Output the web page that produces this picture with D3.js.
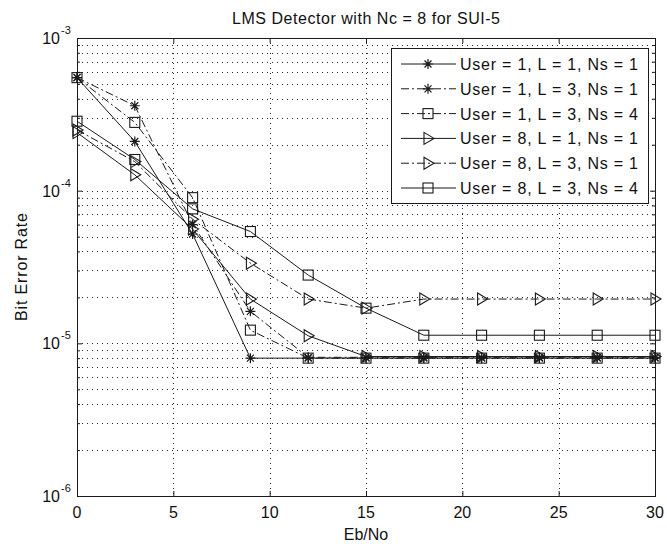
<!DOCTYPE html>
<html>
<head>
<meta charset="utf-8">
<script src="https://cdn.jsdelivr.net/npm/d3@7"></script>
<style>
  body { margin: 0; background: #fff; }
  text { font-family: "Liberation Sans", Arial, Helvetica, sans-serif; fill: #111; }
</style>
</head>
<body>
<svg id="chart" width="667" height="544"></svg>
<script>
// Eb/No points (dB)
const ebno = [0, 3, 6, 9, 12, 15, 18, 21, 24, 27, 30];

// Bit error rate per configuration
const berU1L1Ns1 = [5.5e-4, 2.1e-4, 5.2e-5, 8.0e-6, 8.0e-6, 8.0e-6, 8.0e-6, 8.0e-6, 8.0e-6, 8.0e-6, 8.0e-6];
const berU1L3Ns1 = [5.5e-4, 3.6e-4, 6.0e-5, 1.62e-5, 8.1e-6, 8.1e-6, 8.1e-6, 8.1e-6, 8.1e-6, 8.1e-6, 8.1e-6];
const berU1L3Ns4 = [5.5e-4, 2.8e-4, 9.0e-5, 1.22e-5, 8.0e-6, 8.0e-6, 8.0e-6, 8.0e-6, 8.0e-6, 8.0e-6, 8.0e-6];
const berU8L1Ns1 = [2.4e-4, 1.27e-4, 5.6e-5, 1.95e-5, 1.12e-5, 8.2e-6, 8.2e-6, 8.2e-6, 8.2e-6, 8.2e-6, 8.2e-6];
const berU8L3Ns1 = [2.5e-4, 1.55e-4, 6.5e-5, 3.35e-5, 1.95e-5, 1.7e-5, 1.95e-5, 1.95e-5, 1.95e-5, 1.95e-5, 1.95e-5];
const berU8L3Ns4 = [2.85e-4, 1.6e-4, 7.6e-5, 5.4e-5, 2.8e-5, 1.7e-5, 1.13e-5, 1.13e-5, 1.13e-5, 1.13e-5, 1.13e-5];

const seriesLabels = [
  "User = 1, L = 1, Ns = 1",
  "User = 1, L = 3, Ns = 1",
  "User = 1, L = 3, Ns = 4",
  "User = 8, L = 1, Ns = 1",
  "User = 8, L = 3, Ns = 1",
  "User = 8, L = 3, Ns = 4"
];
const seriesValues = [berU1L1Ns1, berU1L3Ns1, berU1L3Ns4, berU8L1Ns1, berU8L3Ns1, berU8L3Ns4];
const seriesMarkers = ["asterisk", "asterisk", "square", "triangle", "triangle", "square"];
const seriesDashed = [false, true, true, false, true, false];

const xTicks = [0, 5, 10, 15, 20, 25, 30];
const yDecades = [-6, -5, -4, -3];

const titleText = "LMS Detector with Nc = 8 for SUI-5";
const xLabel = "Eb/No";
const yLabel = "Bit Error Rate";

// ---- layout ----
const plot = { left: 77, right: 655, top: 38, bottom: 496 };
const svg = d3.select("#chart");
const ink = "#1a1a1a";

const x = d3.scaleLinear().domain([0, 30]).range([plot.left, plot.right]);
const y = d3.scaleLog().domain([1e-6, 1e-3]).range([plot.bottom, plot.top]);

// white axes background
svg.append("rect").attr("x", plot.left).attr("y", plot.top)
  .attr("width", plot.right - plot.left).attr("height", plot.bottom - plot.top)
  .attr("fill", "#fff");

// minor log positions (2..9 within each decade)
const minorVals = [];
for (let d = -6; d < -3; d++) {
  for (let m = 2; m <= 9; m++) minorVals.push(m * Math.pow(10, d));
}
const majorVals = yDecades.map(d => Math.pow(10, d));

// dotted grid
const grid = svg.append("g").attr("stroke", "#2a2a2a").attr("stroke-width", 1)
  .attr("stroke-dasharray", "1,4").attr("fill", "none");
minorVals.concat(majorVals.slice(1, -1)).forEach(v => {
  grid.append("line").attr("x1", plot.left).attr("x2", plot.right)
    .attr("y1", Math.round(y(v)) + 0.5).attr("y2", Math.round(y(v)) + 0.5);
});
xTicks.slice(1, -1).forEach(t => {
  grid.append("line").attr("y1", plot.top).attr("y2", plot.bottom)
    .attr("x1", Math.round(x(t)) + 0.5).attr("x2", Math.round(x(t)) + 0.5);
});

// axes ticks (all four sides, pointing inward)
const axesG = svg.append("g");
function styleAxis(g) {
  g.select(".domain").remove();
  g.selectAll(".tick line").attr("stroke", ink);
  g.selectAll(".tick text").remove();
}
axesG.append("g").attr("transform", `translate(0,${plot.bottom})`)
  .call(d3.axisBottom(x).tickValues(xTicks).tickSizeInner(-5).tickSizeOuter(0)).call(styleAxis);
axesG.append("g").attr("transform", `translate(0,${plot.top})`)
  .call(d3.axisTop(x).tickValues(xTicks).tickSizeInner(-5).tickSizeOuter(0)).call(styleAxis);
axesG.append("g").attr("transform", `translate(${plot.left},0)`)
  .call(d3.axisLeft(y).tickValues(majorVals).tickSizeInner(-5).tickSizeOuter(0)).call(styleAxis);
axesG.append("g").attr("transform", `translate(${plot.right},0)`)
  .call(d3.axisRight(y).tickValues(majorVals).tickSizeInner(-5).tickSizeOuter(0)).call(styleAxis);
axesG.append("g").attr("transform", `translate(${plot.left},0)`)
  .call(d3.axisLeft(y).tickValues(minorVals).tickSizeInner(-3).tickSizeOuter(0)).call(styleAxis);
axesG.append("g").attr("transform", `translate(${plot.right},0)`)
  .call(d3.axisRight(y).tickValues(minorVals).tickSizeInner(-3).tickSizeOuter(0)).call(styleAxis);

svg.append("rect").attr("x", plot.left + 0.5).attr("y", plot.top + 0.5)
  .attr("width", plot.right - plot.left).attr("height", plot.bottom - plot.top)
  .attr("fill", "none").attr("stroke", ink).attr("stroke-width", 1);

// x tick labels
xTicks.forEach(t => {
  svg.append("text").attr("x", x(t)).attr("y", plot.bottom + 22)
    .attr("text-anchor", "middle").attr("font-size", 16).text(String(t));
});

// y tick labels as 10 with superscript exponent
yDecades.forEach(d => {
  const yy = y(Math.pow(10, d));
  svg.append("text").attr("x", 60).attr("y", yy + 6)
    .attr("text-anchor", "end").attr("font-size", 16).text("10");
  svg.append("text").attr("x", 61).attr("y", yy - 4)
    .attr("font-size", 11).text(String(d));
});

// titles
svg.append("text").attr("x", (plot.left + plot.right) / 2).attr("y", 24)
  .attr("text-anchor", "middle").attr("font-size", 16)
  .attr("textLength", 268).attr("lengthAdjust", "spacing").text(titleText);
svg.append("text").attr("x", (plot.left + plot.right) / 2).attr("y", 540)
  .attr("text-anchor", "middle").attr("font-size", 16).text(xLabel);
svg.append("text").attr("transform", `translate(27,${(plot.top + plot.bottom) / 2}) rotate(-90)`)
  .attr("text-anchor", "middle").attr("font-size", 16)
  .attr("textLength", 108).attr("lengthAdjust", "spacing").text(yLabel);

// marker drawing
function drawMarker(g, type) {
  if (type === "asterisk") {
    const r = 5, q = 3.5;
    g.append("path").attr("d",
      `M${-r},0L${r},0M0,${-r}L0,${r}M${-q},${-q}L${q},${q}M${-q},${q}L${q},${-q}`)
      .attr("stroke", ink).attr("stroke-width", 1.2).attr("fill", "none");
  } else if (type === "square") {
    g.append("rect").attr("x", -5).attr("y", -5).attr("width", 10).attr("height", 10)
      .attr("stroke", ink).attr("stroke-width", 1.1).attr("fill", "none");
  } else if (type === "triangle") {
    g.append("path").attr("d", "M-4,-6L-4,6L6,0Z")
      .attr("stroke", ink).attr("stroke-width", 1.1).attr("fill", "none");
  }
}

const line = d3.line().x(d => x(d[0])).y(d => y(d[1]));
const dashPattern = "8,3,2,3";

const seriesG = svg.append("g");
seriesValues.forEach((vals, i) => {
  const pts = ebno.map((e, k) => [e, vals[k]]);
  seriesG.append("path").datum(pts).attr("d", line)
    .attr("fill", "none").attr("stroke", ink).attr("stroke-width", 1)
    .attr("stroke-dasharray", seriesDashed[i] ? dashPattern : null);
  pts.forEach(p => {
    const mg = seriesG.append("g").attr("transform", `translate(${x(p[0])},${y(p[1])})`);
    drawMarker(mg, seriesMarkers[i]);
  });
});

// legend
const leg = { left: 391, top: 48, right: 648, bottom: 203 };
const legG = svg.append("g");
legG.append("rect").attr("x", leg.left + 0.5).attr("y", leg.top + 0.5)
  .attr("width", leg.right - leg.left).attr("height", leg.bottom - leg.top)
  .attr("fill", "#fff").attr("stroke", ink).attr("stroke-width", 1);
seriesLabels.forEach((lab, i) => {
  const cy = 64 + i * 24.8;
  legG.append("line").attr("x1", 401).attr("x2", 456).attr("y1", cy).attr("y2", cy)
    .attr("stroke", ink).attr("stroke-width", 1)
    .attr("stroke-dasharray", seriesDashed[i] ? dashPattern : null);
  const mg = legG.append("g").attr("transform", `translate(428,${cy})`);
  drawMarker(mg, seriesMarkers[i]);
  legG.append("text").attr("x", 460).attr("y", cy + 6).attr("font-size", 16)
    .attr("textLength", 178).attr("lengthAdjust", "spacing").text(lab);
});
</script>
</body>
</html>
